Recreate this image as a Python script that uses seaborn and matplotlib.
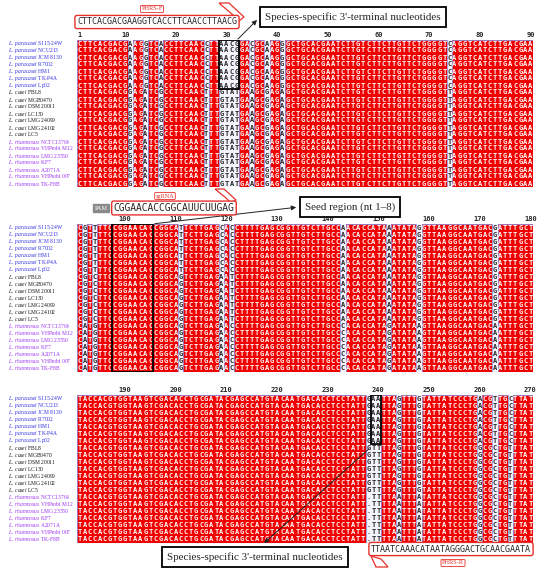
import numpy as np
import pandas as pd
import matplotlib
matplotlib.use("Agg")
import matplotlib.pyplot as plt
import seaborn as sns
from matplotlib.colors import ListedColormap
from matplotlib.patches import Rectangle, Polygon, FancyArrowPatch

# strains shown in the alignment (top to bottom)
species = (["L. paracasei"] * 7 + ["L. casei"] * 7 + ["L. rhamnosus"] * 7)
strain_ids = ["S115-24W", "NCU213", "JCM 8130", "R7002", "HM1", "TK-P4A", "Lp02",
              "FBL8", "MGB0470", "DSM 20011", "LC130", "LMG 24099", "LMG 24102", "LC5",
              "NCTC13764", "VHProbi M12", "LMG 23550", "KF7", "A2071A", "VHProbi 007", "TK-F8B"]

species_colors = {"L. paracasei": "#2f2fe0", "L. casei": "#111111", "L. rhamnosus": "#9a30f0"}

# aligned sequences per species group (positions 1-270)
seq_paracasei = (
    "CTTCACGACG" "A" "AG" "G" "TC" "A" "CCTTCAAC" "C" "TT" "AACG" "GA" "C" "GC" "A" "AG" "G"
    "GCTGCACGAATCTTGTCTTCTTGTTCTGGGGT" "C" "AGGTCATCTTGACGAA"
    "C" "G" "T" "T" "TTC" "CGGAACAC" "CGGCA" "T" "TCTTGAG" "C" "A" "C"
    "CTTTTGAGCGGTTGTCTTGCC" "A" "ACACCATA" "A" "ATATA" "G" "GTTAAGGCAATGAC" "G" "ATTTGCT"
    "TACCACGTGGTAAGTCGACACCTGCGATACGAGCCATGTACAATGACACCTCCTATT" "GAA" "TTA" "G" "TTT" "G"
    "TATTATCCCTG" "A" "CG" "T" "TG" "C" "TTAT"
)
seq_casei = (
    "CTTCACGACG" "G" "AG" "A" "TC" "G" "CCTTCAAC" "T" "TT" "GTAT" "GA" "A" "GC" "G" "AG" "A"
    "GCTGCACGAATCTTGTCTTCTTGTTCTGGGGT" "T" "AGGTCATCTTGACGAA"
    "C" "G" "T" "C" "TTC" "CGGAACAC" "CGGCA" "G" "TCTTGAG" "A" "A" "T"
    "CTTTTGAGCGGTTGTCTTGCC" "A" "ACACCATA" "A" "ATATA" "G" "GTTAAGGCAATGAC" "G" "ATTTGCT"
    "TACCACGTGGTAAGTCGACACCTGCGATACGAGCCATGTACAATGACACCTCCTATT" "GTT" "TTA" "G" "TTT" "G"
    "TATTATCCCTG" "G" "CG" "C" "TG" "T" "TTAT"
)
seq_rhamnosus = (
    "CTTCACGACG" "G" "AG" "A" "TC" "G" "CCTTCAAC" "T" "TT" "GTAT" "GA" "A" "GC" "G" "AG" "A"
    "GCTGCACGAATCTTGTCTTCTTGTTCTGGGGT" "T" "AGGTCATCTTGACGAA"
    "C" "A" "T" "G" "TTC" "CGGAACAC" "CGGCA" "G" "TCTTGAG" "A" "A" "C"
    "CTTTTGAGCGGTTGTCTTGCC" "C" "ACACCATA" "G" "ATATA" "A" "GTTAAGGCAATGAC" "A" "ATTTGCT"
    "TACCACGTGGTAAGTCGACACCTGCGATACGAGCCATGTACAATGACACCTCCTATT" ".TT" "TTA" "A" "TTT" "A"
    "TATTATCCCTG" "G" "CG" "C" "TG" "T" "TTAT"
)
group_seq = {"L. paracasei": seq_paracasei, "L. casei": seq_casei, "L. rhamnosus": seq_rhamnosus}

block_starts = [1, 91, 181]
block_ticks = [[1, 10, 20, 30, 40, 50, 60, 70, 80, 90],
               [100, 110, 120, 130, 140, 150, 160, 170, 180],
               [190, 200, 210, 220, 230, 240, 250, 260, 270]]

primer_f = "CTTCACGACGAAGGTCACCTTCAACCTTAACG"
primer_r = "TTAATCAAACATAATAGGGACTGCAACGAATA"
sgrna = "CGGAACACCGGCAUUCUUGAG"
callout_3p = "Species-specific 3'-terminal nucleotides"
callout_seed = "Seed region (nt 1\u20138)"

# ---------------------------------------------------------------
sns.set_style("white")
plt.rcParams["font.family"] = ["Liberation Serif", "DejaVu Sans"]
plt.rcParams["mathtext.fontset"] = "custom"
plt.rcParams["mathtext.it"] = "Liberation Serif:italic"
plt.rcParams["mathtext.rm"] = "Liberation Serif"

W, H = 550, 574
fig = plt.figure(figsize=(W / 100, H / 100), dpi=100)
fig.patch.set_facecolor("white")


def fx(x):
    return x / W


def fy(y):
    return 1 - y / H


labels = [r"$\mathit{" + sp.replace(" ", r"\ ") + "}$ " + st for sp, st in zip(species, strain_ids)]
seqs = [group_seq[sp] for sp in species]
n = len(seqs)

block_px = [(40, 187), (224, 372), (395, 543)]
cmap = ListedColormap(["#f3f3fb", "#f00000"])
axes = []
for b, (top, bot) in enumerate(block_px):
    ax = fig.add_axes([fx(77), fy(bot), 456 / W, (bot - top) / H])
    letters = np.array([list(s[b * 90:(b + 1) * 90]) for s in seqs])
    cons = (letters == letters[0]).all(axis=0)
    mat = pd.DataFrame(np.tile(cons.astype(float), (n, 1)))
    sns.heatmap(mat, annot=letters, fmt="", cmap=cmap, vmin=0, vmax=1, cbar=False, ax=ax,
                xticklabels=False, yticklabels=labels,
                annot_kws={"fontsize": 5.0, "fontfamily": "DejaVu Sans Mono", "fontweight": "bold"})
    # blue frames around conserved runs
    c = 0
    while c < 90:
        if cons[c]:
            s = c
            while c < 90 and cons[c]:
                c += 1
            ax.add_patch(Rectangle((s, 0), c - s, n, fill=False, ec="#9090dd", lw=0.6))
        else:
            c += 1
    ax.xaxis.tick_top()
    ax.set_xticks([t - block_starts[b] + 0.5 for t in block_ticks[b]])
    ax.set_xticklabels([str(t) for t in block_ticks[b]], fontsize=5,
                       fontfamily="DejaVu Sans Mono", fontweight="bold", rotation=0)
    ax.tick_params(axis="x", length=0, pad=1.5)
    ax.set_yticklabels(labels, rotation=0, ha="left", fontsize=4.0)
    ax.tick_params(axis="y", length=0, pad=50)
    for lab, sp in zip(ax.get_yticklabels(), species):
        lab.set_color(species_colors[sp])
    ax.set_xlabel("")
    ax.set_ylabel("")
    axes.append(ax)

# highlight boxes
axes[0].add_patch(Rectangle((28, 0), 4, 7, fill=False, ec="black", lw=1.3, zorder=5))
axes[1].add_patch(Rectangle((7, 0), 8, n, fill=False, ec="black", lw=1.3, zorder=5))
axes[2].add_patch(Rectangle((58, 0), 2, 7, fill=False, ec="black", lw=1.3, zorder=5))

red = "#e8302a"
mono = "DejaVu Sans Mono"

# forward primer
fig.text(fx(157), fy(22), primer_f, fontsize=6, family=mono, ha="center", va="center",
         bbox=dict(boxstyle="round,pad=0.25", fc="white", ec=red, lw=1.0))
fig.add_artist(Polygon([(fx(219), fy(3)), (fx(229), fy(3)), (fx(244), fy(17)), (fx(239), fy(21)),
                        (fx(233), fy(15))], closed=True, fc="white", ec=red, lw=0.9))
fig.text(fx(152), fy(9), "PHRS-F", fontsize=4.5, color=red, ha="center", va="center",
         bbox=dict(boxstyle="round,pad=0.15", fc="white", ec=red, lw=0.6))

# sgRNA + PAM
fig.text(fx(101), fy(208), "PAM", fontsize=4.5, color="white", ha="center", va="center",
         bbox=dict(boxstyle="square,pad=0.3", fc="#8a8a8a", ec="#8a8a8a"))
fig.text(fx(174), fy(208), sgrna, fontsize=6.9, family=mono, ha="center", va="center",
         bbox=dict(boxstyle="round,pad=0.2", fc="white", ec=red, lw=1.0))
fig.add_artist(Polygon([(fx(215), fy(189)), (fx(224), fy(189)), (fx(236), fy(200)), (fx(231), fy(203)),
                        (fx(226), fy(198))], closed=True, fc="white", ec=red, lw=0.9))
fig.text(fx(165), fy(196), "sgRNA", fontsize=4.5, color=red, ha="center", va="center",
         bbox=dict(boxstyle="round,pad=0.15", fc="white", ec=red, lw=0.6))

# reverse primer
fig.text(fx(451), fy(549), primer_r, fontsize=6, family=mono, ha="center", va="center",
         bbox=dict(boxstyle="round,pad=0.25", fc="white", ec=red, lw=1.0))
fig.add_artist(Polygon([(fx(371), fy(556)), (fx(376), fy(567)), (fx(388), fy(567)), (fx(381), fy(559))],
                       closed=True, fc="white", ec=red, lw=0.9))
fig.text(fx(453), fy(563), "PHRS-R", fontsize=4.5, color=red, ha="center", va="center",
         bbox=dict(boxstyle="round,pad=0.15", fc="white", ec=red, lw=0.6))

# callouts
box_kw = dict(boxstyle="square,pad=0.45", fc="white", ec="black", lw=1.3)
fig.text(fx(353), fy(17), callout_3p, fontsize=7.9, ha="center", va="center", bbox=box_kw)
fig.text(fx(350), fy(207), callout_seed, fontsize=7.9, ha="center", va="center", bbox=box_kw)
fig.text(fx(255), fy(557), callout_3p, fontsize=7.9, ha="center", va="center", bbox=box_kw)

for (x0, y0), (x1, y1) in [((236, 41), (259, 18)), ((152, 224), (299, 207)), ((371, 447), (262, 545))]:
    fig.add_artist(FancyArrowPatch((fx(x0), fy(y0)), (fx(x1), fy(y1)), transform=fig.transFigure,
                                   arrowstyle="-|>", mutation_scale=7, lw=0.7, color="#222222"))

fig.savefig("out.png", dpi=100)
